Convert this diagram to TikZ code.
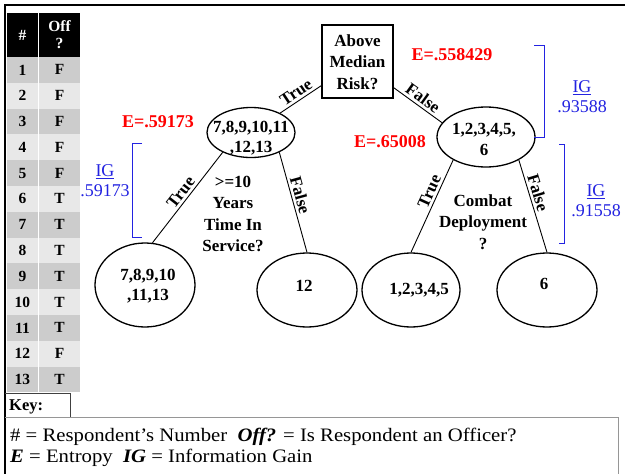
\documentclass[tikz,border=0pt]{standalone}
\usepackage{fontspec}
\setmainfont{Liberation Serif}
\usetikzlibrary{shapes.geometric}
\definecolor{ered}{RGB}{255,0,0}
\definecolor{igblue}{RGB}{35,35,225}
\definecolor{rowdark}{RGB}{204,204,204}
\definecolor{rowlight}{RGB}{232,232,232}
\definecolor{keygray}{RGB}{150,150,150}
\begin{document}
\begin{tikzpicture}[x=1pt,y=-1pt,
  qtext/.style={font=\bfseries\fontsize{17}{21.5}\selectfont, align=center, inner sep=0},
  leaftext/.style={font=\bfseries\fontsize{17}{20.5}\selectfont, align=center, inner sep=0},
  leaf/.style={ellipse, draw, line width=1.3pt, inner sep=0},
  edge/.style={line width=0.9pt},
  elab/.style={font=\bfseries\fontsize{17}{20}\selectfont, sloped, above, inner sep=2.5pt},
  entropy/.style={text=ered, font=\bfseries\fontsize{18}{20}\selectfont, inner sep=0},
  gain/.style={text=igblue, align=center, font=\fontsize{18}{20}\selectfont, inner sep=0},
  bracket/.style={draw=igblue, line width=1pt},
  cell/.style={font=\bfseries\fontsize{15.5}{17}\selectfont, inner sep=0},
  keytext/.style={font=\fontsize{19}{20}\selectfont, anchor=base west, inner sep=0},
]
\useasboundingbox (0,0) rectangle (625,474);
\fill[white] (0,0) rectangle (625,474);

% ---- respondent table ----
\fill[black] (7,13) rectangle (80,57);
\node[cell, text=white] (h1) at (22.5,35) {\#};
\node[cell, text=white, align=center] (h2) at (59.5,35) {Off\\?};
\foreach \i/\v in {1/F,2/F,3/F,4/F,5/F,6/T,7/T,8/T,9/T,10/T,11/T,12/F,13/T} {
  \ifodd\i \def\rowcol{rowdark}\else\def\rowcol{rowlight}\fi
  \fill[\rowcol] (7,{57+(\i-1)*25.8}) rectangle (80,{57+\i*25.8});
  \node[cell] (n\i) at (22.5,{57+(\i-0.5)*25.8}) {\i};
  \node[cell] (o\i) at (59.5,{57+(\i-0.5)*25.8}) {\v};
}
\draw[white, line width=1.5pt] (38.5,13) -- (38.5,392.4);

% ---- frame and key ----
\draw[line width=2pt] (5,474) -- (5,5) -- (625,5);
\draw[black!75, line width=0.8pt] (5,393) -- (70,393) -- (70,417);
\draw[keygray, line width=1pt] (5,417) -- (618,417) -- (618,474);
\node[font=\bfseries\fontsize{16.5}{18}\selectfont, anchor=base west, inner sep=0] (key) at (9,410) {Key:};
\node[keytext] (key1) at (10,441) {\scalebox{1.09}[1]{\# = Respondent’s Number \ \textbf{\textit{Off?}} = Is Respondent an Officer?}};
\node[keytext] (key2) at (10,462) {\scalebox{1.09}[1]{\textbf{\textit{E}} = Entropy \ \textbf{\textit{IG}} = Information Gain}};

% ---- decision tree ----
\node[draw, line width=1.3pt, minimum width=71pt, minimum height=73pt, inner sep=0] (root) at (357.5,61.5) {};
\node[qtext] (roottext) at (357.5,62) {Above\\Median\\Risk?};

\node[leaf, minimum width=88pt, minimum height=50pt] (L) at (251,132.5) {};
\node[leaftext] (Lt) at (251,138) {7,8,9,10,11\\,12,13};
\node[leaf, minimum width=98pt, minimum height=60pt] (R) at (486,137) {};
\node[leaftext] (Rt) at (484,139.5) {1,2,3,4,5,\\6};

\node[leaf, minimum width=100pt, minimum height=84pt] (LL) at (145,285) {};
\node[leaftext] (LLt) at (148,286) {7,8,9,10\\,11,13};
\node[leaf, minimum width=100pt, minimum height=74pt] (N12) at (307,290) {};
\node[leaftext] (N12t) at (304,286) {12};
\node[leaf, minimum width=98pt, minimum height=74pt] (A) at (411,290) {};
\node[leaftext] (At) at (419,290) {1,2,3,4,5};
\node[leaf, minimum width=100pt, minimum height=74pt] (N6) at (547,290) {};
\node[leaftext] (N6t) at (544,284) {6};

\node[qtext] (q1) at (233,214) {>=10\\Years\\Time In\\Service?};
\node[qtext] (q2) at (483,222) {Combat\\Deployment\\?};

\draw[edge] (root) -- (L) node[elab, pos=0.5] {True};
\draw[edge] (root) -- (R.162) node[elab, pos=0.5] {False};
\draw[edge] (L.215) -- (LL.80) node[elab, pos=0.5] {True};
\draw[edge] (L.-35) -- (N12.north) node[elab, pos=0.45] {False};
\draw[edge] (R.215) -- (A.north) node[elab, pos=0.38] {True};
\draw[edge] (R.-35) -- (N6.north) node[elab, pos=0.38] {False};

% ---- entropy values ----
\node[entropy] (e1) at (452,55) {E=.558429};
\node[entropy] (e2) at (158,122) {E=.59173};
\node[entropy] (e3) at (390,142) {E=.65008};

% ---- information gain brackets ----
\draw[bracket] (534,45) -- (544,45) -- (544,137) -- (534,137);
\draw[bracket] (559,144) -- (564,144) -- (564,243) -- (559,243);
\draw[bracket] (142,143) -- (132,143) -- (132,237) -- (142,237);
\node[gain] (g1) at (582,97) {\underline{IG}\\.93588};
\node[gain] (g2) at (596,201) {\underline{IG}\\.91558};
\node[gain] (g3) at (105,181) {\underline{IG}\\.59173};
\end{tikzpicture}
\end{document}
